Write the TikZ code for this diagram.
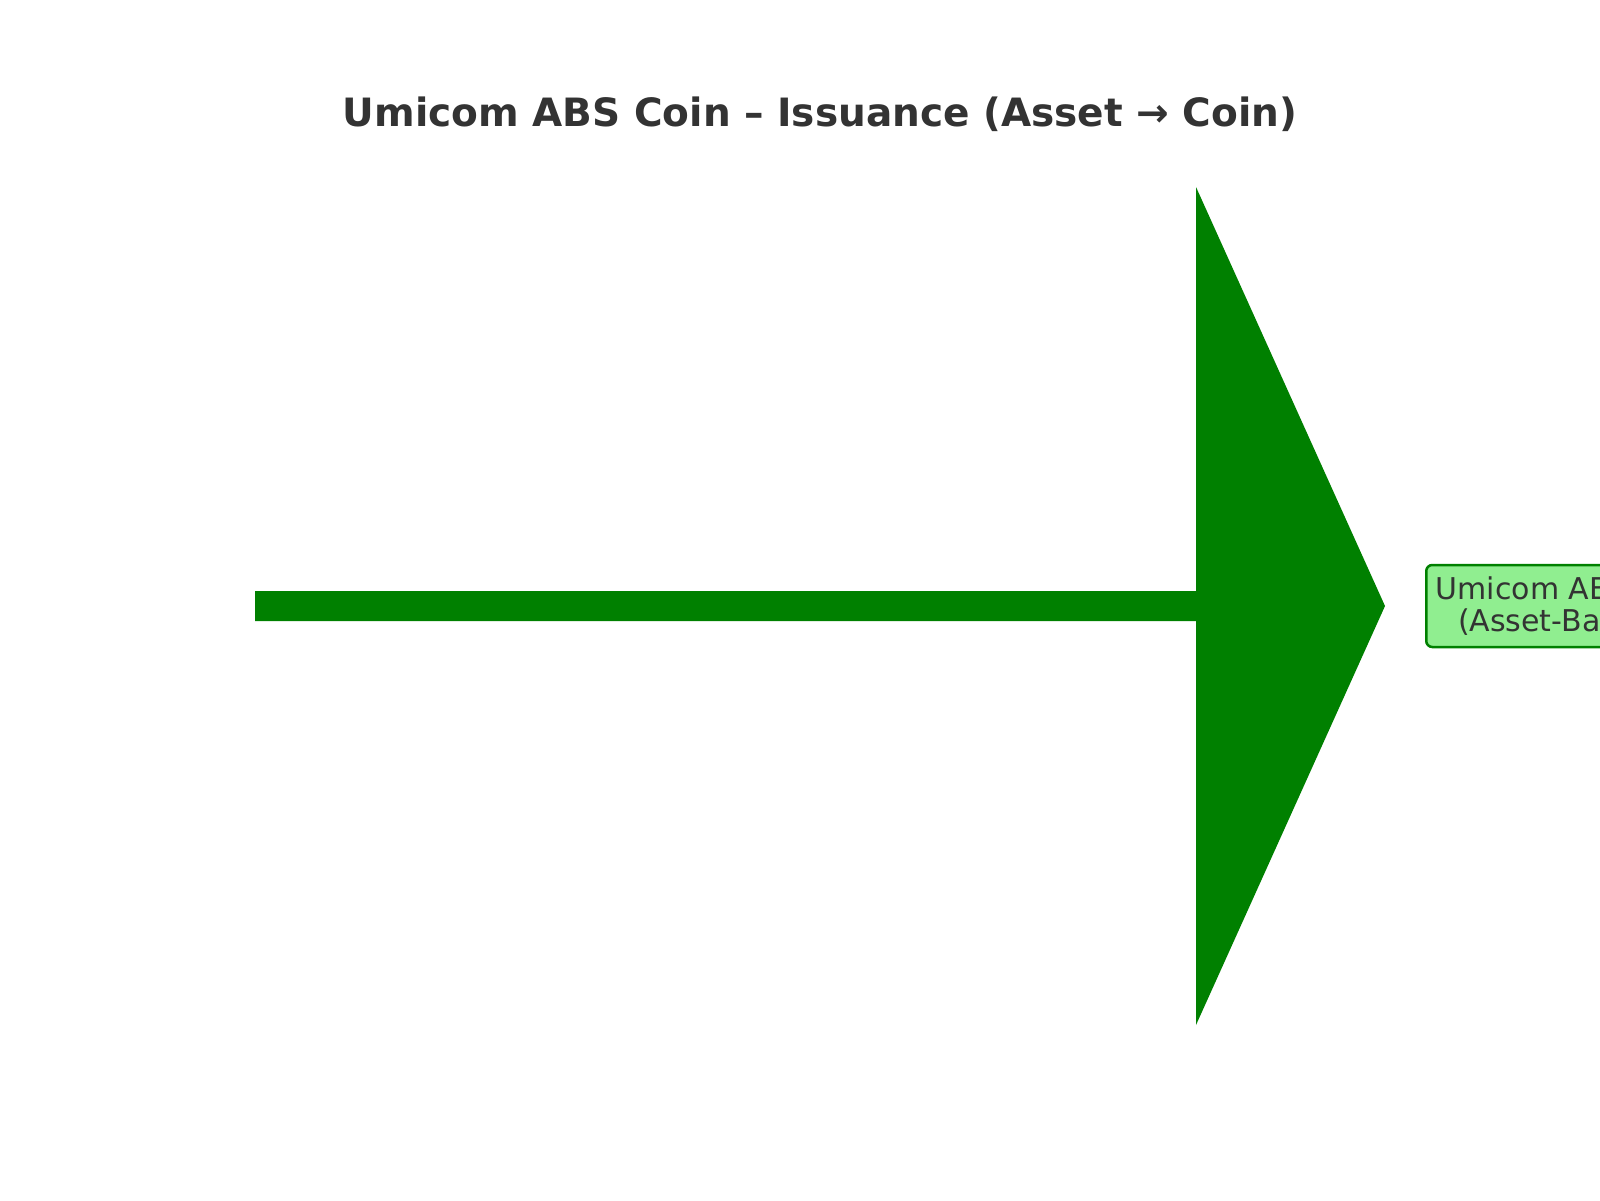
\documentclass[tikz,border=0pt]{standalone}
\usepackage{fontspec}
\setmainfont{DejaVu Sans}
\definecolor{txt}{HTML}{333333}
\definecolor{arrowgreen}{HTML}{008000}
\definecolor{boxfill}{HTML}{90EE90}
\begin{document}
\begin{tikzpicture}[x=1pt,y=-1pt,
  titlestyle/.style={font=\fontsize{39}{46}\selectfont\bfseries, text=txt, inner sep=0},
  coinbox/.style={draw=arrowgreen, line width=2.5pt, fill=boxfill, rounded corners=6pt,
    font=\fontsize{30}{32}\selectfont, text=txt, align=center, inner xsep=9.5pt, inner ysep=6pt, minimum height=82pt},
  bigarrow/.style={fill=arrowgreen, draw=none}]
\path[clip] (0,0) rectangle (1600,1200);
\fill[white] (0,0) rectangle (1600,1200);
\node[titlestyle] (title) at (820,114) {Umicom ABS Coin – Issuance (Asset → Coin)};
\coordinate (start) at (255,606);
\node[coinbox, anchor=west] (coin) at (1425,606) {Umicom ABS Coin\\(Asset-Backed)};
\path[bigarrow] (start) ++(0,-15) -- ++(941,0) -- (1196,187) -- (1385,606) -- (1196,1025) -- (1196,621) -- (255,621) -- cycle;
\end{tikzpicture}
\end{document}
